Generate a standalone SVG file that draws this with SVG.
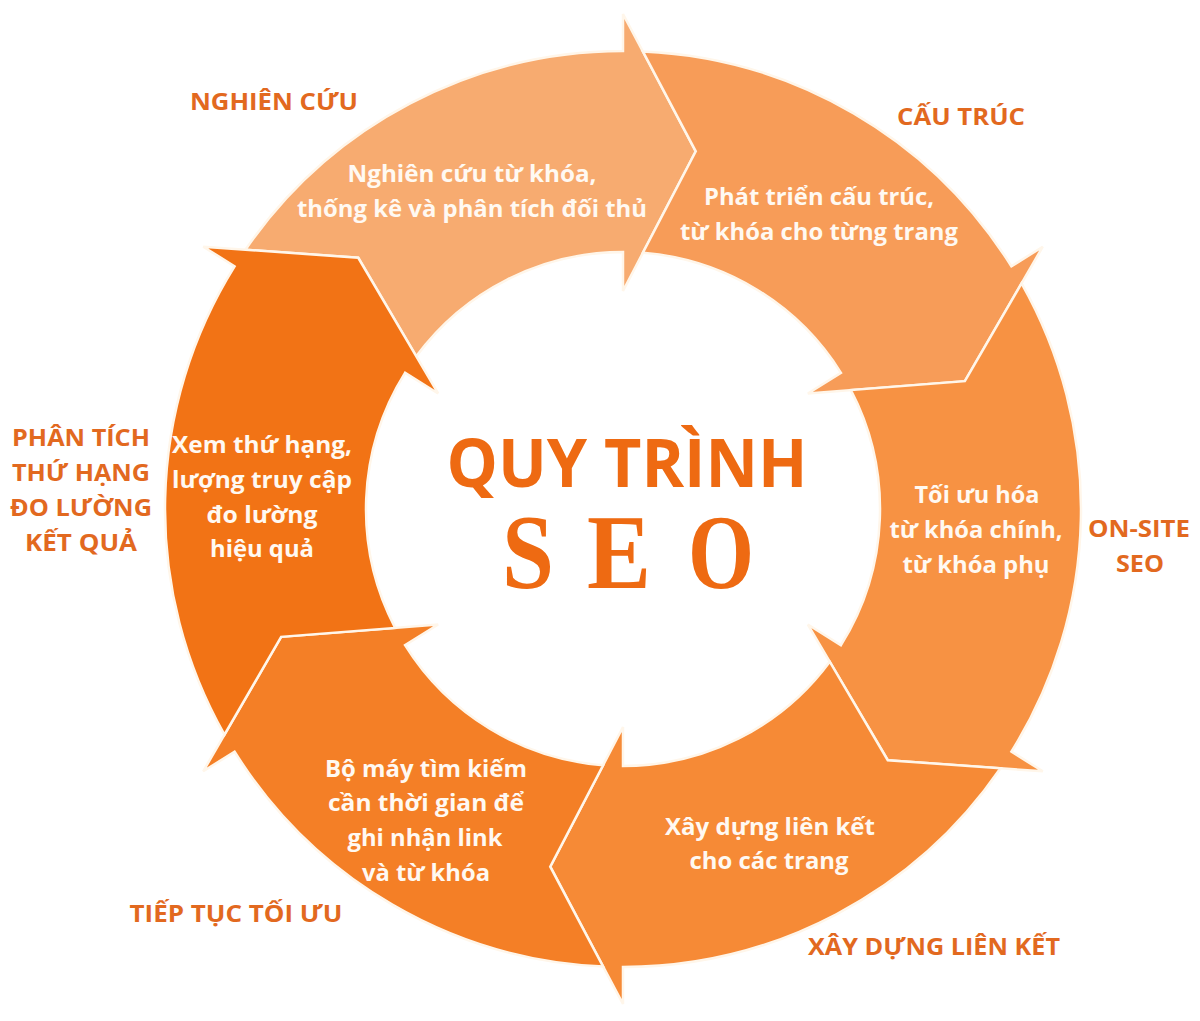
<svg xmlns="http://www.w3.org/2000/svg" xmlns:xlink="http://www.w3.org/1999/xlink" width="1200" height="1021" viewBox="0 0 1200 1021">
<defs>
<style>
.arr{stroke:#FFF6EA;stroke-width:2.5;stroke-linejoin:miter}
.in{font-family:"Open Sans","Noto Sans","DejaVu Sans",sans-serif;font-weight:700;font-size:23px;fill:#FFF9F2;text-anchor:middle}
.lb{font-family:"Open Sans","Noto Sans","DejaVu Sans",sans-serif;font-weight:700;font-size:23px;fill:#E2691F;text-anchor:middle}
.ttl{font-family:"Open Sans","Noto Sans",sans-serif;font-weight:700;font-size:66px;fill:#EE6A12;text-anchor:middle}
.seo{font-family:"Liberation Serif","Times New Roman",serif;font-weight:700;font-size:106px;fill:#EE6A12;text-anchor:middle}
</style>
<path id="a58" d="M19.83,-457.57 A458,458 0 0 1 388.41,-242.70 L419.78,-262.31 L341.88,-127.83 L184.87,-115.52 L217.95,-136.19 A257,257 0 0 0 19.92,-256.23 L72.77,-357.67 Z"/>
<path id="a64" d="M19.83,-457.57 A458,458 0 0 1 411.65,-200.77 L444.90,-216.99 L353.37,-91.39 L195.94,-95.56 L230.99,-112.66 A257,257 0 0 0 19.92,-256.23 L72.77,-357.67 Z"/>
</defs>
<rect width="1200" height="1021" fill="#FFFFFF"/>

<g id="node-nghien-cuu">
<use xlink:href="#a58" href="#a58" class="arr" fill="#F7AB70" transform="translate(623,509) rotate(-58)"/>
<text class="in" x="472" y="182" textLength="249" lengthAdjust="spacingAndGlyphs">Nghiên cứu từ khóa,</text>
<text class="in" x="472" y="217" textLength="350" lengthAdjust="spacingAndGlyphs">thống kê và phân tích đối thủ</text>
<text class="lb" x="274" y="110" textLength="168" lengthAdjust="spacingAndGlyphs">NGHIÊN CỨU</text>
</g>

<g id="node-cau-truc">
<use xlink:href="#a58" href="#a58" class="arr" fill="#F79C58" transform="translate(623,509)"/>
<text class="in" x="819" y="205" textLength="230" lengthAdjust="spacingAndGlyphs">Phát triển cấu trúc,</text>
<text class="in" x="819" y="240" textLength="278" lengthAdjust="spacingAndGlyphs">từ khóa cho từng trang</text>
<text class="lb" x="961" y="125" textLength="128" lengthAdjust="spacingAndGlyphs">CẤU TRÚC</text>
</g>

<g id="node-on-site">
<use xlink:href="#a64" href="#a64" class="arr" fill="#F79243" transform="translate(623,509) rotate(58)"/>
<text class="in" x="977" y="503" textLength="125" lengthAdjust="spacingAndGlyphs">Tối ưu hóa</text>
<text class="in" x="976" y="538" textLength="173" lengthAdjust="spacingAndGlyphs">từ khóa chính,</text>
<text class="in" x="976" y="573" textLength="147" lengthAdjust="spacingAndGlyphs">từ khóa phụ</text>
<text class="lb" x="1139" y="537" textLength="102" lengthAdjust="spacingAndGlyphs">ON-SITE</text>
<text class="lb" x="1140" y="572" textLength="48" lengthAdjust="spacingAndGlyphs">SEO</text>
</g>

<g id="node-xay-dung">
<use xlink:href="#a58" href="#a58" class="arr" fill="#F68A36" transform="translate(623,509) rotate(122)"/>
<text class="in" x="770" y="835" textLength="210" lengthAdjust="spacingAndGlyphs">Xây dựng liên kết</text>
<text class="in" x="769" y="869" textLength="159" lengthAdjust="spacingAndGlyphs">cho các trang</text>
<text class="lb" x="934" y="955" textLength="252" lengthAdjust="spacingAndGlyphs">XÂY DỰNG LIÊN KẾT</text>
</g>

<g id="node-tiep-tuc">
<use xlink:href="#a58" href="#a58" class="arr" fill="#F47F26" transform="translate(623,509) rotate(180)"/>
<text class="in" x="426" y="777" textLength="202" lengthAdjust="spacingAndGlyphs">Bộ máy tìm kiếm</text>
<text class="in" x="426" y="811" textLength="196" lengthAdjust="spacingAndGlyphs">cần thời gian để</text>
<text class="in" x="425" y="846" textLength="155" lengthAdjust="spacingAndGlyphs">ghi nhận link</text>
<text class="in" x="426" y="881" textLength="128" lengthAdjust="spacingAndGlyphs">và từ khóa</text>
<text class="lb" x="236" y="922" textLength="213" lengthAdjust="spacingAndGlyphs">TIẾP TỤC TỐI ƯU</text>
</g>

<g id="node-phan-tich">
<use xlink:href="#a64" href="#a64" class="arr" fill="#F27315" transform="translate(623,509) rotate(238)"/>
<text class="in" x="262" y="453" textLength="180" lengthAdjust="spacingAndGlyphs">Xem thứ hạng,</text>
<text class="in" x="262" y="488" textLength="180" lengthAdjust="spacingAndGlyphs">lượng truy cập</text>
<text class="in" x="262" y="523" textLength="111" lengthAdjust="spacingAndGlyphs">đo lường</text>
<text class="in" x="262" y="557" textLength="104" lengthAdjust="spacingAndGlyphs">hiệu quả</text>
<text class="lb" x="81" y="446" textLength="138" lengthAdjust="spacingAndGlyphs">PHÂN TÍCH</text>
<text class="lb" x="81" y="481" textLength="138" lengthAdjust="spacingAndGlyphs">THỨ HẠNG</text>
<text class="lb" x="81" y="516" textLength="142" lengthAdjust="spacingAndGlyphs">ĐO LƯỜNG</text>
<text class="lb" x="81" y="551" textLength="112" lengthAdjust="spacingAndGlyphs">KẾT QUẢ</text>
</g>

<g id="connectors"></g>

<g id="title">
<text class="ttl" x="627" y="487" textLength="361" lengthAdjust="spacingAndGlyphs">QUY TRÌNH</text>
<text class="seo" x="528" y="588" textLength="52" lengthAdjust="spacingAndGlyphs">S</text>
<text class="seo" x="619" y="588" textLength="64" lengthAdjust="spacingAndGlyphs">E</text>
<text class="seo" x="721" y="588" textLength="66" lengthAdjust="spacingAndGlyphs">O</text>
</g>
</svg>
